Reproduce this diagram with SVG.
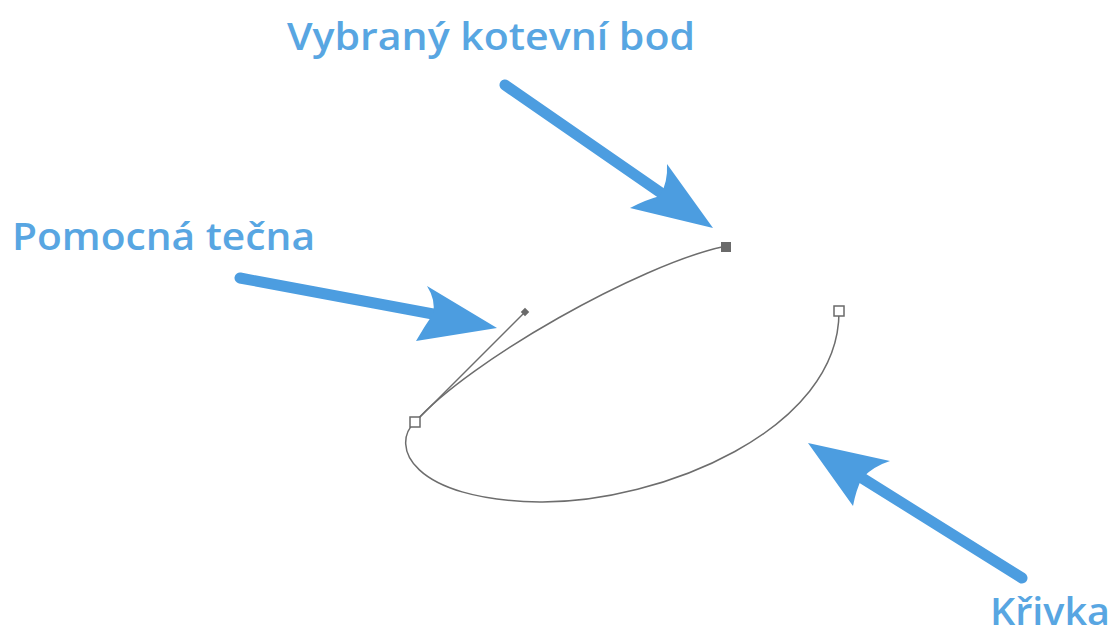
<svg xmlns="http://www.w3.org/2000/svg" width="1116" height="637" viewBox="0 0 1116 637">
<style>
.lbl{font-family:"Open Sans","Noto Sans","Liberation Sans",sans-serif;fill:#58a6e2;font-size:38px;font-weight:600}
.shaft{stroke:#4c9de0;stroke-width:11;stroke-linecap:round;fill:none}
.head{fill:#4c9de0}
.curve{stroke:#6d6d6d;stroke-width:1.5;fill:none}
</style>
<rect width="1116" height="637" fill="#fff"/>
<g id="curve">
<path class="curve" d="M415,422 C470,360 640,265 722,247"/>
<path class="curve" d="M415,422 C390,445 410,500 540,502 C660,503 840,430 839,311"/>
<line class="curve" x1="419" y1="418" x2="525" y2="312"/>
</g>
<g id="anchor-selected"><rect x="721" y="242" width="10" height="10" fill="#6a6a6a"/></g>
<g id="handle-point"><rect x="522" y="309" width="6" height="6" fill="#6a6a6a" transform="rotate(45 525 312)"/></g>
<g id="anchor-left"><rect x="410" y="417" width="10" height="10" fill="#fff" stroke="#6a6a6a" stroke-width="1.5"/></g>
<g id="anchor-right"><rect x="834" y="306" width="10" height="10" fill="#fff" stroke="#6a6a6a" stroke-width="1.5"/></g>
<g id="connectors">
<line class="shaft" x1="505" y1="85" x2="664" y2="195"/>
<path class="head" d="M713,228 L667,164 Q668,182 660,196 Q645,200 630,208 Z"/>
<line class="shaft" x1="240" y1="278" x2="433" y2="314"/>
<path class="head" d="M497,328 L427,286 Q436,300 433,314 Q424,327 416,341 Z"/>
<line class="shaft" x1="1022" y1="578" x2="862" y2="478"/>
<path class="head" d="M808,443 L890,461 Q874,466 862,478 Q856,490 853,506 Z"/>
</g>
<g id="label-vybrany"><text class="lbl" x="287" y="50" textLength="408" lengthAdjust="spacingAndGlyphs">Vybraný kotevní bod</text></g>
<g id="label-pomocna"><text class="lbl" x="12" y="250" textLength="303" lengthAdjust="spacingAndGlyphs">Pomocná tečna</text></g>
<g id="label-krivka"><text class="lbl" x="990" y="625" textLength="120" lengthAdjust="spacingAndGlyphs">Křivka</text></g>
</svg>
